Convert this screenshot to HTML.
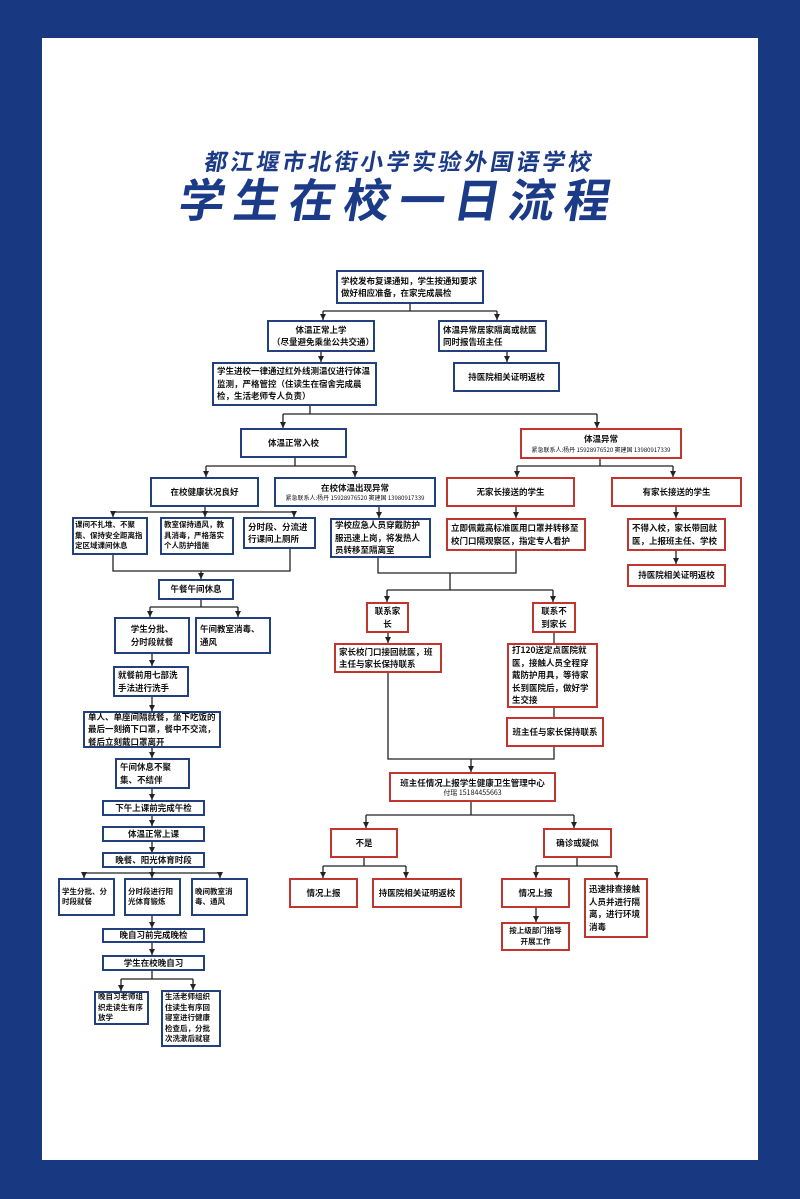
<!DOCTYPE html>
<html><head><meta charset="utf-8">
<style>
html,body{margin:0;padding:0}
body{width:800px;height:1199px;background:#193882;position:relative;overflow:hidden;font-family:"Liberation Sans","Noto Sans CJK SC",sans-serif}
#pg{position:absolute;left:42px;top:38px;width:716px;height:1122px;background:#fff}
.t1{position:absolute;left:0;width:800px;text-align:center;color:#1b3a87;font-weight:bold;font-family:"Noto Sans CJK SC","WenQuanYi Zen Hei",sans-serif;transform:skewX(-10deg)}
.x{position:absolute;box-sizing:border-box;border:2px solid #23407e;background:#fff;display:flex;align-items:center;justify-content:center;font-size:8.5px;line-height:12.5px;font-weight:bold;color:#111;padding:1px 3px;font-family:"Noto Sans CJK SC","WenQuanYi Zen Hei",sans-serif;text-align:left;overflow:hidden}
.x.r{border-color:#c3342f}
.x.c{text-align:center}
.x.t{font-size:7.5px;line-height:10.5px}
.s{font-size:6px;line-height:8px;font-weight:normal;white-space:nowrap}
svg{position:absolute;left:0;top:0}
</style></head><body>
<div id="pg"></div>
<div class="t1" style="top:143px;font-size:23px;letter-spacing:3px">都江堰市北街小学实验外国语学校</div>
<div class="t1" style="top:170px;font-size:46px;letter-spacing:9px;line-height:56px">学生在校一日流程</div>

<svg width="800" height="1199">
<defs><marker id="a" markerWidth="7" markerHeight="7" refX="6" refY="3" orient="auto" markerUnits="userSpaceOnUse"><path d="M0,0 L6,3 L0,6z" fill="#222"/></marker></defs>
<g stroke="#222" stroke-width="1.3" fill="none">
<path d="M410 303V311M323 311H497"/><path d="M323 311V320" marker-end="url(#a)"/><path d="M497 311V320" marker-end="url(#a)"/>
<path d="M321 351V362" marker-end="url(#a)"/><path d="M507 351V362" marker-end="url(#a)"/>
<path d="M310 406V414M283 414H597"/><path d="M283 414V428" marker-end="url(#a)"/><path d="M597 414V428" marker-end="url(#a)"/>
<path d="M295 458V466M206 466H355"/><path d="M206 466V477" marker-end="url(#a)"/><path d="M355 466V477" marker-end="url(#a)"/>
<path d="M600 459V466M517 466H673"/><path d="M517 466V477" marker-end="url(#a)"/><path d="M673 466V477" marker-end="url(#a)"/>
<path d="M205 506V512M113 512H294"/><path d="M113 512V517" marker-end="url(#a)"/><path d="M205 512V517" marker-end="url(#a)"/><path d="M294 512V517" marker-end="url(#a)"/>
<path d="M379 507V518" marker-end="url(#a)"/><path d="M516 506V518" marker-end="url(#a)"/><path d="M676 506V518" marker-end="url(#a)"/><path d="M676 551V564" marker-end="url(#a)"/>
<path d="M113 555V571H290V549M201 571V579" marker-end="url(#a)"/>
<path d="M201 599V607M150 607H238"/><path d="M150 607V617" marker-end="url(#a)"/><path d="M238 607V617" marker-end="url(#a)"/>
<path d="M152 654V666" marker-end="url(#a)"/><path d="M152 697V711" marker-end="url(#a)"/><path d="M152 748V758" marker-end="url(#a)"/><path d="M152 789V800" marker-end="url(#a)"/><path d="M152 815V826" marker-end="url(#a)"/><path d="M152 841V853" marker-end="url(#a)"/>
<path d="M152 867V873M84 873H220"/><path d="M84 873V878" marker-end="url(#a)"/><path d="M152 873V878" marker-end="url(#a)"/><path d="M220 873V878" marker-end="url(#a)"/>
<path d="M152 916V928" marker-end="url(#a)"/><path d="M152 942V955" marker-end="url(#a)"/>
<path d="M152 970V979M121 979H193"/><path d="M121 979V991" marker-end="url(#a)"/><path d="M193 979V990" marker-end="url(#a)"/>
<path d="M378 558V573H516V551M450 573V590M387 590H553"/><path d="M387 590V602" marker-end="url(#a)"/><path d="M553 590V602" marker-end="url(#a)"/>
<path d="M388 633V643" marker-end="url(#a)"/><path d="M554 633V643"/>
<path d="M554 708V717"/>
<path d="M388 673V759H554V747M471 759V772" marker-end="url(#a)"/>
<path d="M471 802V815M366 815H574"/><path d="M366 815V828" marker-end="url(#a)"/><path d="M574 815V828" marker-end="url(#a)"/>
<path d="M364 857V866M323 866H406"/><path d="M323 866V878" marker-end="url(#a)"/><path d="M406 866V878" marker-end="url(#a)"/>
<path d="M577 857V866M536 866H617"/><path d="M536 866V878" marker-end="url(#a)"/><path d="M617 866V878" marker-end="url(#a)"/>
<path d="M536 908V922" marker-end="url(#a)"/>
</g></svg>

<div class="x" style="left:336px;top:270px;width:148px;height:34px">学校发布复课通知，学生按通知要求做好相应准备，在家完成晨检</div>
<div class="x c" style="left:267px;top:320px;width:108px;height:32px">体温正常上学<br>（尽量避免乘坐公共交通）</div>
<div class="x" style="left:438px;top:320px;width:109px;height:32px">体温异常居家隔离或就医同时报告班主任</div>
<div class="x" style="left:212px;top:362px;width:165px;height:44px">学生进校一律通过红外线测温仪进行体温监测，严格管控（住读生在宿舍完成晨检，生活老师专人负责）</div>
<div class="x c" style="left:453px;top:362px;width:107px;height:30px">持医院相关证明返校</div>
<div class="x c" style="left:240px;top:428px;width:107px;height:30px">体温正常入校</div>
<div class="x r c" style="left:520px;top:428px;width:162px;height:31px;flex-direction:column">体温异常<span class="s">紧急联系人:杨丹 15928976520 窦建国 13980917339</span></div>
<div class="x c" style="left:150px;top:477px;width:109px;height:30px">在校健康状况良好</div>
<div class="x c" style="left:274px;top:477px;width:162px;height:30px;flex-direction:column">在校体温出现异常<span class="s">紧急联系人:杨丹 15928976520 窦建国 13980917339</span></div>
<div class="x r c" style="left:446px;top:477px;width:129px;height:30px">无家长接送的学生</div>
<div class="x r c" style="left:611px;top:477px;width:131px;height:30px">有家长接送的学生</div>
<div class="x t" style="left:72px;top:517px;width:76px;height:38px;padding:1px 1px">课间不扎堆、不聚集、保持安全距离指定区域课间休息</div>
<div class="x t" style="left:160px;top:517px;width:74px;height:38px;padding:1px 2px">教室保持通风，教具消毒，严格落实个人防护措施</div>
<div class="x" style="left:243px;top:517px;width:73px;height:32px">分时段、分流进行课间上厕所</div>
<div class="x" style="left:330px;top:518px;width:101px;height:40px">学校应急人员穿戴防护服迅速上岗，将发热人员转移至隔离室</div>
<div class="x r" style="left:446px;top:518px;width:140px;height:33px">立即佩戴高标准医用口罩并转移至校门口隔观察区，指定专人看护</div>
<div class="x r" style="left:627px;top:518px;width:99px;height:33px">不得入校，家长带回就医，上报班主任、学校</div>
<div class="x r c" style="left:627px;top:564px;width:99px;height:23px">持医院相关证明返校</div>
<div class="x c" style="left:158px;top:579px;width:76px;height:21px">午餐午间休息</div>
<div class="x c" style="left:114px;top:617px;width:76px;height:37px">学生分批、<br>分时段就餐</div>
<div class="x" style="left:195px;top:617px;width:76px;height:37px">午间教室消毒、通风</div>
<div class="x r c" style="left:366px;top:602px;width:43px;height:31px">联系家长</div>
<div class="x r c" style="left:532px;top:602px;width:44px;height:31px">联系不<br>到家长</div>
<div class="x r" style="left:334px;top:643px;width:108px;height:30px">家长校门口接回就医，班主任与家长保持联系</div>
<div class="x r" style="left:507px;top:643px;width:91px;height:65px">打120送定点医院就医，接触人员全程穿戴防护用具，等待家长到医院后，做好学生交接</div>
<div class="x r c" style="left:506px;top:717px;width:98px;height:30px">班主任与家长保持联系</div>
<div class="x" style="left:113px;top:666px;width:76px;height:31px">就餐前用七部洗手法进行洗手</div>
<div class="x" style="left:83px;top:711px;width:138px;height:37px">单人、单座间隔就餐，坐下吃饭的最后一刻摘下口罩，餐中不交流，餐后立刻戴口罩离开</div>
<div class="x" style="left:115px;top:758px;width:75px;height:31px">午间休息不聚集、不结伴</div>
<div class="x r c" style="left:389px;top:772px;width:167px;height:30px;flex-direction:column">班主任情况上报学生健康卫生管理中心<span class="s" style="font-size:7px">付瑶 15184455663</span></div>
<div class="x c" style="left:102px;top:800px;width:103px;height:16px">下午上课前完成午检</div>
<div class="x c" style="left:102px;top:826px;width:103px;height:16px">体温正常上课</div>
<div class="x c" style="left:102px;top:852px;width:103px;height:16px">晚餐、阳光体育时段</div>
<div class="x r c" style="left:330px;top:828px;width:68px;height:30px">不是</div>
<div class="x r c" style="left:543px;top:828px;width:69px;height:30px">确诊或疑似</div>
<div class="x t" style="left:58px;top:878px;width:57px;height:38px;padding:1px 2px">学生分批、分时段就餐</div>
<div class="x t" style="left:124px;top:878px;width:57px;height:38px;padding:1px 2px">分时段进行阳光体育锻炼</div>
<div class="x t" style="left:191px;top:878px;width:57px;height:38px;padding:1px 2px">晚间教室消毒、通风</div>
<div class="x r c" style="left:289px;top:878px;width:69px;height:30px">情况上报</div>
<div class="x r c" style="left:372px;top:878px;width:90px;height:30px">持医院相关证明返校</div>
<div class="x r c" style="left:501px;top:878px;width:69px;height:30px">情况上报</div>
<div class="x r" style="left:584px;top:878px;width:64px;height:60px">迅速排查接触人员并进行隔离，进行环境消毒</div>
<div class="x r c t" style="left:501px;top:922px;width:69px;height:29px">按上级部门指导开展工作</div>
<div class="x c" style="left:102px;top:928px;width:103px;height:15px">晚自习前完成晚检</div>
<div class="x c" style="left:102px;top:955px;width:103px;height:16px">学生在校晚自习</div>
<div class="x t" style="left:94px;top:991px;width:55px;height:34px;padding:1px 2px">晚自习老师组织走读生有序放学</div>
<div class="x t" style="left:161px;top:990px;width:60px;height:57px;padding:1px 2px">生活老师组织住读生有序回寝室进行健康检查后，分批次洗漱后就寝</div>
</body></html>
